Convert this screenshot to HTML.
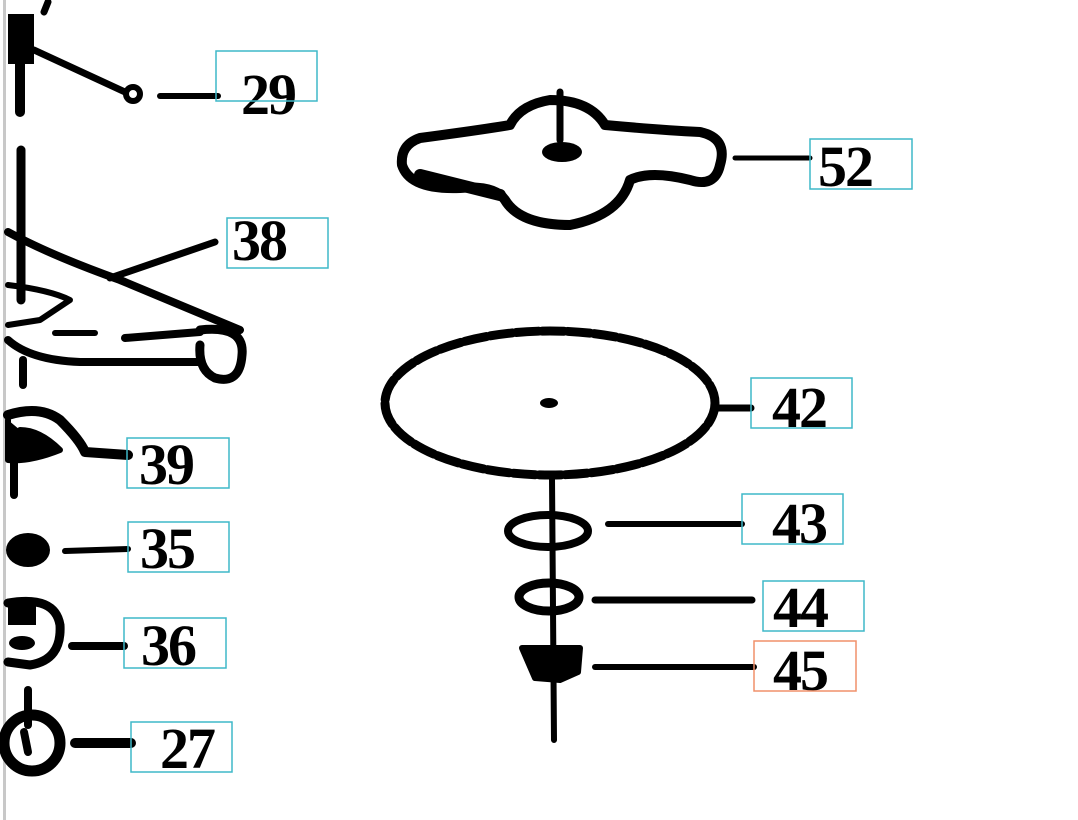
<!DOCTYPE html>
<html><head><style>
html,body{margin:0;padding:0;background:#fff;}
svg{display:block}
text{font-family:"Liberation Serif",serif;font-weight:bold;font-size:58px;fill:#000;letter-spacing:-2px}
</style></head><body>
<svg width="1078" height="820" viewBox="0 0 1078 820" xmlns="http://www.w3.org/2000/svg">
<rect x="0" y="0" width="1078" height="820" fill="#fff"/>
<line x1="4.5" y1="0" x2="4.5" y2="820" stroke="#c8c8c8" stroke-width="3"/>
<g stroke="#000" fill="none" stroke-linecap="round" stroke-linejoin="round">
<path d="M48 2 L44 12" stroke-width="7"/>
<rect x="8" y="14" width="26" height="50" fill="#000" stroke="none"/>
<path d="M20 60 L20 112" stroke-width="10"/>
<path d="M34 50 L125 92" stroke-width="7"/>
<circle cx="133" cy="94" r="7" stroke-width="6"/>
<path d="M160 96 L218 96" stroke-width="6"/>
<path d="M21 150 L21 300" stroke-width="9"/>
<path d="M8 232 Q50 255 120 280 L240 330" stroke-width="8"/>
<path d="M110 278 L215 242" stroke-width="7"/>
<path d="M8 285 Q50 290 70 300 L40 320 L8 325" stroke-width="6"/>
<path d="M8 340 Q30 360 80 362 L200 362" stroke-width="8"/>
<path d="M55 333 L95 333" stroke-width="6"/>
<path d="M125 338 L200 332" stroke-width="8"/>
<path d="M200 330 Q245 325 242 355 Q240 385 215 378 Q198 370 200 345" stroke-width="9"/>
<path d="M23 360 L23 385" stroke-width="8"/>
<path d="M8 415 Q40 405 60 420 Q80 440 85 452 L128 455" stroke-width="10"/>
<path d="M8 420 L8 460 Q30 462 60 450 Q40 430 20 430" fill="#000" stroke-width="6"/>
<path d="M14 460 L14 495" stroke-width="8"/>
<ellipse cx="28" cy="550" rx="22" ry="17" fill="#000" stroke="none"/>
<path d="M65 551 L128 549" stroke-width="6"/>
<path d="M8 603 Q55 595 60 625 Q62 660 30 665 L8 662" stroke-width="9"/>
<ellipse cx="22" cy="643" rx="13" ry="7" fill="#000" stroke="none"/>
<rect x="8" y="605" width="28" height="20" fill="#000" stroke="none"/>
<path d="M72 646 L124 646" stroke-width="8"/>
<path d="M28 690 L28 725" stroke-width="8"/>
<circle cx="32" cy="743" r="28" stroke-width="11"/>
<path d="M24 732 L28 752" stroke-width="8"/>
<path d="M75 743 L131 743" stroke-width="10"/>
<path d="M420 138 Q480 130 510 125 Q520 105 550 100 Q590 100 605 125 Q660 130 700 132 Q728 138 720 165 Q715 188 690 180 Q650 170 630 180 Q620 215 570 225 Q520 225 505 200 Q495 185 460 188 Q410 190 402 165 Q400 145 420 138 Z" stroke-width="10"/>
<path d="M420 175 Q460 185 500 195" stroke-width="12"/>
<path d="M560 92 L560 140" stroke-width="7"/>
<ellipse cx="562" cy="152" rx="20" ry="10" fill="#000" stroke="none"/>
<path d="M735 158 L810 158" stroke-width="5"/>
<ellipse cx="550" cy="403" rx="165" ry="72" stroke-width="9" stroke-dasharray="22 4"/>
<ellipse cx="549" cy="403" rx="9" ry="5" fill="#000" stroke="none"/>
<path d="M715 408 L751 408" stroke-width="7"/>
<path d="M552 478 L554 740" stroke-width="6"/>
<ellipse cx="548" cy="531" rx="40" ry="16" stroke-width="8"/>
<path d="M608 524 L742 524" stroke-width="6"/>
<ellipse cx="549" cy="597" rx="30" ry="14" stroke-width="9"/>
<path d="M595 600 L752 600" stroke-width="7"/>
<path d="M522 648 L580 648 L578 672 L560 680 L535 678 Z" fill="#000" stroke-width="6"/>
<path d="M595 667 L754 667" stroke-width="6"/>
</g>
<g>
<text x="241" y="114">29</text>
<text x="232" y="260">38</text>
<text x="139" y="484">39</text>
<text x="140" y="568">35</text>
<text x="141" y="665">36</text>
<text x="160" y="768">27</text>
<text x="818" y="186">52</text>
<text x="772" y="427">42</text>
<text x="772" y="543">43</text>
<text x="773" y="627">44</text>
<text x="773" y="690">45</text>
</g>
<g fill="none" stroke-width="1.5">
<rect x="216" y="51" width="101" height="50" stroke="#3fb8c8"/>
<rect x="227" y="218" width="101" height="50" stroke="#3fb8c8"/>
<rect x="127" y="438" width="102" height="50" stroke="#3fb8c8"/>
<rect x="128" y="522" width="101" height="50" stroke="#3fb8c8"/>
<rect x="124" y="618" width="102" height="50" stroke="#3fb8c8"/>
<rect x="131" y="722" width="101" height="50" stroke="#3fb8c8"/>
<rect x="810" y="139" width="102" height="50" stroke="#3fb8c8"/>
<rect x="751" y="378" width="101" height="50" stroke="#3fb8c8"/>
<rect x="742" y="494" width="101" height="50" stroke="#3fb8c8"/>
<rect x="763" y="581" width="101" height="50" stroke="#3fb8c8"/>
<rect x="754" y="641" width="102" height="50" stroke="#f0906a"/>
</g>
</svg>
</body></html>
